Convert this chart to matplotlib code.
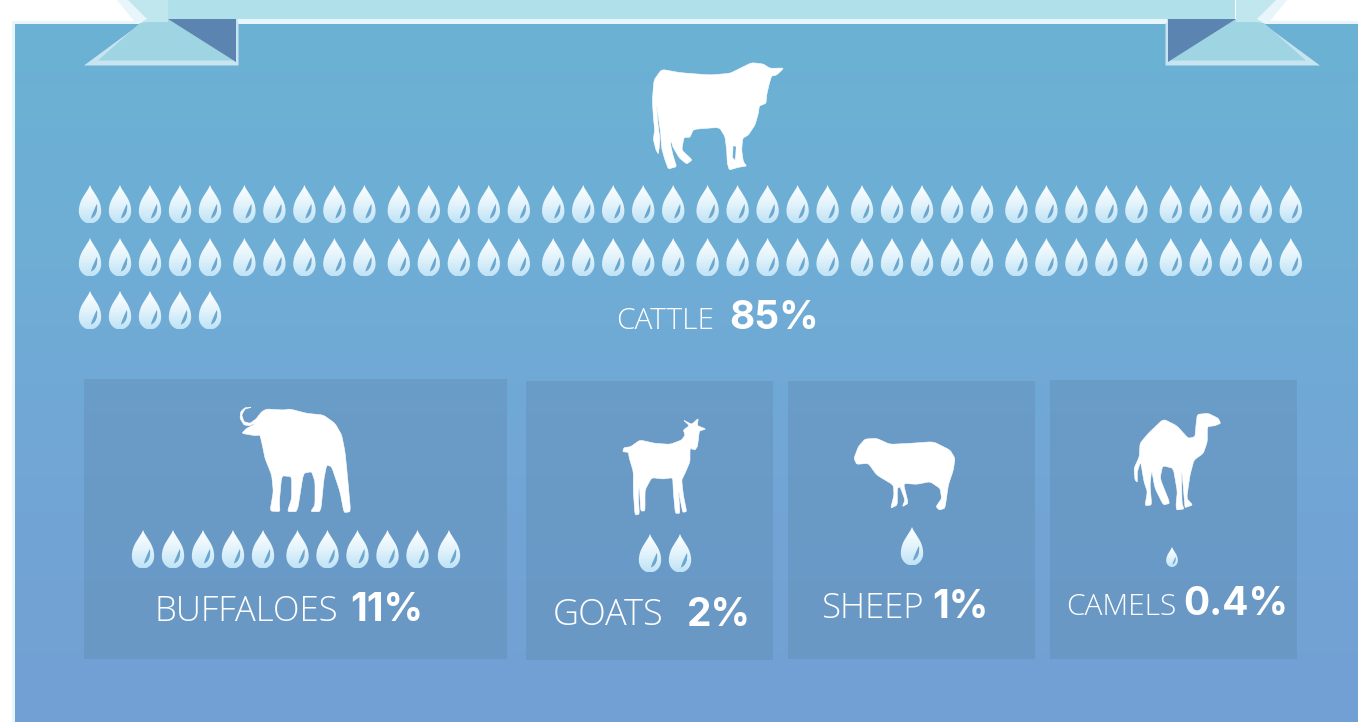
import numpy as np
import matplotlib
matplotlib.use("Agg")
import matplotlib.pyplot as plt
from matplotlib.colors import LinearSegmentedColormap
from matplotlib.patches import PathPatch, Polygon, Rectangle
from matplotlib.path import Path

plt.rcParams['font.family'] = ['Open Sans', 'DejaVu Sans']

# values
animals = ["CATTLE", "BUFFALOES", "GOATS", "SHEEP", "CAMELS"]
shares = ["85%", "11%", "2%", "1%", "0.4%"]
drop_counts = [85, 11, 2, 1, 1]

# panels: x0, y0, x1, y1
panels = [(84, 379, 507, 659), (526, 381, 773, 660), (788, 381, 1035, 659), (1050, 380, 1297, 659)]

# silhouettes traced in pixels of the zoomed crops (3x), with crop offset
cow = [(462,54),(440,75),(425,78),(418,100),(410,135),(408,160),(388,168),(385,190),(375,225),(355,255),(338,265),(335,300),(340,335),(350,348),(325,352),(298,360),(292,340),(290,300),(285,260),(268,232),(190,238),(180,262),(162,262),(155,300),(187,330),(170,342),(148,324),(128,290),(124,270),(122,285),(130,320),(140,350),(115,357),(105,330),(95,295),(92,250),(85,200),(79,155),(82,200),(86,240),(90,265),(88,290),(85,312),(78,300),(70,268),(74,240),(70,200),(67,150),(72,90),(95,58),(150,68),(240,75),(300,70),(330,55),(365,38),(400,42),(420,55)]
cow_gap = [(310,288),(318,290),(315,330),(308,322)]
buffalo = [(95,37),(75,42),(65,60),(72,80),(90,85),(108,72),(125,50),(140,42),(190,45),(210,42),(260,55),(310,60),(345,85),(365,120),(375,170),(382,240),(392,350),(372,353),(360,290),(335,215),(320,210),(312,250),(302,350),(272,350),(285,330),(285,260),(275,230),(250,235),(232,350),(202,350),(215,310),(215,245),(185,242),(178,320),(180,350),(150,348),(160,290),(155,240),(135,190),(128,155),(120,120),(105,122),(65,115),(80,100),(100,90),(108,82),(90,92),(72,90),(60,70),(62,50),(75,38)]
goat = [(250,45),(275,58),(295,40),(292,62),(318,72),(298,78),(295,105),(292,125),(285,135),(270,130),(270,170),(255,205),(245,225),(250,270),(260,320),(248,322),(240,280),(235,250),(240,325),(226,325),(220,260),(218,218),(190,222),(155,218),(135,255),(135,318),(122,318),(118,240),(115,270),(118,328),(105,330),(100,260),(100,200),(88,160),(85,142),(68,140),(72,128),(92,125),(120,105),(165,115),(210,118),(245,105),(255,90),(250,75),(268,62)]
sheep = [(42,100),(55,65),(75,42),(110,40),(150,58),(210,55),(280,50),(330,75),(345,100),(340,135),(325,180),(315,250),(298,255),(288,245),(305,220),(300,190),(270,170),(230,178),(190,175),(205,235),(187,245),(195,225),(180,185),(172,190),(172,240),(152,250),(162,210),(160,180),(110,150),(85,115),(50,118)]
camel = [(232,28),(265,25),(295,40),(302,55),(285,62),(262,65),(262,110),(250,145),(222,165),(210,210),(200,280),(218,300),(195,308),(194,295),(184,180),(186,295),(192,312),(170,315),(168,300),(172,260),(160,190),(128,182),(120,220),(150,295),(130,300),(105,250),(95,195),(90,240),(95,300),(75,302),(82,260),(72,230),(62,170),(52,200),(52,232),(45,225),(42,190),(58,155),(60,115),(85,85),(130,42),(170,62),(205,100),(225,95),(228,60)]

fig = plt.figure(figsize=(13.58, 7.22), dpi=100)
ax = fig.add_axes([0, 0, 1, 1])

bg_map = LinearSegmentedColormap.from_list("bg", [(0, "#6bb2d4"), (0.35, "#6fadd5"), (0.6, "#71a7d6"), (1, "#739fd4")])
drop_map = LinearSegmentedColormap.from_list("drop", ["#ffffff", "#e4f4fc", "#bfe3f6"])
grad = np.linspace(0, 1, 256).reshape(-1, 1)


def rounded(pts, passes=2, r=0.12):
    # corner cutting, the traced outlines look too angular otherwise
    pts = np.array(pts, dtype=float)
    for _ in range(passes):
        nxt = np.roll(pts, -1, axis=0)
        pts = np.column_stack([(1 - r) * pts + r * nxt, r * pts + (1 - r) * nxt]).reshape(-1, 2)
    return pts


def silhouette(points, ox, oy):
    pts = rounded(points) / 3 + [ox, oy]
    ax.add_patch(Polygon(pts, closed=True, fc="white", ec="white", lw=0.4, joinstyle="round", zorder=5))


def draw_drop(cx, top, h):
    w = h * 0.58
    b = top + h
    verts = [(cx, top),
             (cx + w * 0.12, top + h * 0.20), (cx + w / 2, top + h * 0.36), (cx + w / 2, top + h * 0.68),
             (cx + w / 2, top + h * 0.86), (cx + w * 0.28, b), (cx, b),
             (cx - w * 0.28, b), (cx - w / 2, top + h * 0.86), (cx - w / 2, top + h * 0.68),
             (cx - w / 2, top + h * 0.36), (cx - w * 0.12, top + h * 0.20), (cx, top),
             (cx, top)]
    codes = [Path.MOVETO] + [Path.CURVE4] * 12 + [Path.CLOSEPOLY]
    shape = PathPatch(Path(verts, codes), fc="none", ec="none", transform=ax.transData)
    ax.add_patch(shape)
    im = ax.imshow(grad, cmap=drop_map, extent=(cx - w, cx + w, b, top), aspect="auto", zorder=6)
    im.set_clip_path(shape)
    # small highlight inside the drop
    leaf = [(cx + w * 0.31, top + h * 0.49),
            (cx + w * 0.37, top + h * 0.68), (cx + w * 0.24, top + h * 0.84), (cx + w * 0.04, top + h * 0.87),
            (cx + w * 0.10, top + h * 0.74), (cx + w * 0.20, top + h * 0.62), (cx + w * 0.31, top + h * 0.49),
            (cx + w * 0.31, top + h * 0.49)]
    leaf_codes = [Path.MOVETO] + [Path.CURVE4] * 6 + [Path.CLOSEPOLY]
    ax.add_patch(PathPatch(Path(leaf, leaf_codes), fc="#6ca7cf", ec="none", zorder=7))


def drop_row(x0, top, n, h, pitch=30, group_gap=34.4):
    for i in range(n):
        draw_drop(x0 + i * pitch + (i // 5) * (group_gap - pitch), top, h)


# background
ax.imshow(grad, cmap=bg_map, extent=(12, 1358, 722, 22), aspect="auto", zorder=1)
ax.add_patch(Rectangle((12, 21), 1346, 3, fc="#e8f5fb", ec="none", zorder=2))
ax.add_patch(Rectangle((12, 21), 2.5, 701, fc="#e8f5fb", ec="none", zorder=2))

# ribbon, left and right tails
for side in (0, 1):
    fx = (lambda x: x) if side == 0 else (lambda x: 1404 - x)
    ax.add_patch(Polygon([(fx(x), y) for x, y in [(84, 65.5), (147, 19), (168, 19), (238.5, 19), (238.5, 65.5)]],
                         fc="#c8e4f0", ec="none", zorder=3))
    ax.add_patch(Polygon([(fx(x), y) for x, y in [(98, 60.5), (140, 23), (168, 19), (236, 62), (236, 60.5)]],
                         fc="#9fd4e2", ec="none", zorder=3))
    ax.add_patch(Polygon([(fx(x), y) for x, y in [(168, 19), (236, 19), (236, 62)]],
                         fc="#5b84b0", ec="none", zorder=4))
    ax.add_patch(Polygon([(fx(x), y) for x, y in [(117, 0), (168, 0), (168, 22), (140, 22), (147, 19)]],
                         fc="#c0e6ee", ec="none", zorder=4))
    ax.add_patch(Polygon([(fx(x), y) for x, y in [(117, 0), (128, 0), (147, 19), (140, 23), (134, 21)]],
                         fc="#e8f5fb", ec="none", zorder=4))
ax.add_patch(Rectangle((168, 0), 1067, 19, fc="#b0e0ea", ec="none", zorder=4))
ax.add_patch(Rectangle((238, 19), 929, 4, fc="#e8f5fb", ec="none", zorder=4))

# panels
for x0, y0, x1, y1 in panels:
    ax.add_patch(Rectangle((x0, y0), x1 - x0, y1 - y0, fc="#5f8bb0", alpha=0.4, ec="none", zorder=2))

# animals
silhouette(cow, 630, 50)
ax.add_patch(Polygon(np.array(cow_gap) / 3 + [630, 50], closed=True, fc="#6db0d4", ec="none", zorder=5.5))
silhouette(buffalo, 220, 395)
silhouette(goat, 600, 405)
silhouette(sheep, 840, 425)
silhouette(camel, 1120, 405)

# drops, 40 to a row for cattle
n = drop_counts[0]
for r, top in enumerate([185, 238, 291]):
    drop_row(90, top, min(40, n - 40 * r), 38.5)
drop_row(143, 530, 10, 38.5, group_gap=34.5)
drop_row(449, 530, drop_counts[1] - 10, 38.5)
drop_row(650, 534, drop_counts[2], 38.5)
drop_row(912, 527, drop_counts[3], 38.5)
drop_row(1172, 547, drop_counts[4], 20)

# labels: x, baseline, size
label_pos = [(616, 329, 21.5), (155, 621, 25), (553, 625, 26), (821, 618, 25), (1066, 615, 21.5)]
share_pos = [(729, 329, 28), (350, 621, 28), (687, 626, 28), (932, 618, 28), (1183, 615, 28)]
for name, share, lp, sp in zip(animals, shares, label_pos, share_pos):
    ax.text(lp[0], lp[1], name, color="white", fontsize=lp[2], fontweight="light", ha="left", va="baseline", zorder=8)
    ax.text(sp[0], sp[1], share, color="white", fontsize=sp[2], fontweight="bold", family=["Inter", "Open Sans"],
            ha="left", va="baseline", zorder=8)

ax.set_xlim(0, 1358)
ax.set_ylim(722, 0)
ax.axis("off")
fig.savefig("out.png", dpi=100, facecolor="white")
